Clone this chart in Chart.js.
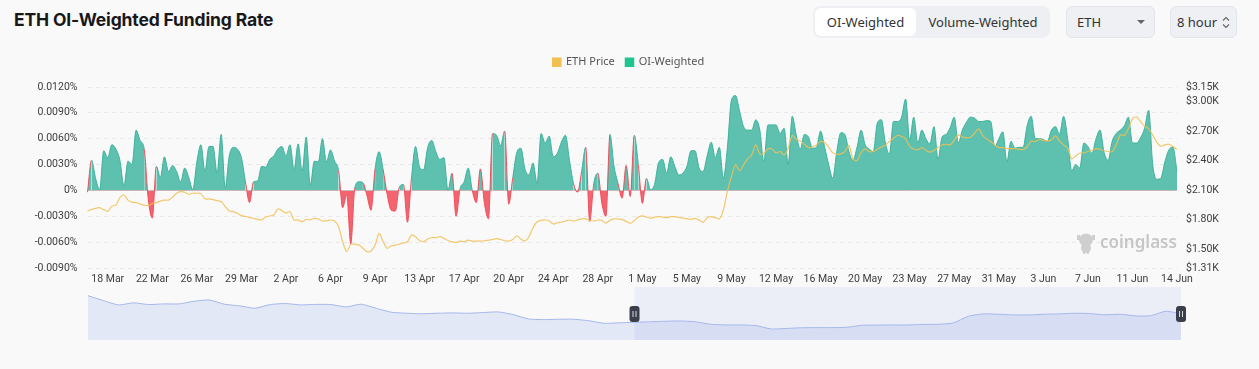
<!DOCTYPE html>
<html><head><meta charset="utf-8">
<script src="https://cdn.jsdelivr.net/npm/chart.js@4.4.1/dist/chart.umd.min.js"></script>
<style>
html,body{margin:0;padding:0;background:#f9f9f9;width:1259px;height:369px;overflow:hidden;font-family:"Noto Sans",sans-serif;}
#title{position:absolute;left:14px;top:9px;font-family:Inter,sans-serif;font-weight:700;font-size:17.5px;color:#18181b;letter-spacing:-0.15px;white-space:nowrap}
.seg{position:absolute;left:813px;top:6px;width:237px;height:32px;background:#edeff2;border-radius:8px}
.segsel{position:absolute;left:2px;top:2px;width:101px;height:28px;background:#fff;border-radius:6px;font-size:13px;color:#333;line-height:28px;text-align:center}
.segoff{position:absolute;left:103px;top:2px;width:134px;height:28px;font-size:13px;color:#333;line-height:28px;text-align:center}
.box{position:absolute;top:6px;height:32px;box-sizing:border-box;background:#eef0f3;border:1px solid #e2e5e9;border-radius:6px;font-size:13px;color:#333;line-height:30px}
#eth{left:1066px;width:89px;padding-left:10px}
#hour{left:1170px;width:67px;padding-left:6px}
.caret{position:absolute;left:70px;top:13px;width:0;height:0;border-left:4px solid transparent;border-right:4px solid transparent;border-top:4px solid #666}
.chev{position:absolute;left:51px;top:9px}
canvas{position:absolute;left:0}
</style></head>
<body>
<div id="title">ETH OI-Weighted Funding Rate</div>
<div class="seg"><div class="segsel">OI-Weighted</div><div class="segoff">Volume-Weighted</div></div>
<div class="box" id="eth">ETH<div class="caret"></div></div>
<div class="box" id="hour">8 hour<svg class="chev" width="8" height="13" viewBox="0 0 8 13"><path d="M1 4.5 L4 1.5 L7 4.5 M1 8.5 L4 11.5 L7 8.5" fill="none" stroke="#666" stroke-width="1.1"/></svg></div>
<canvas id="main" width="1259" height="292" style="top:0"></canvas>
<canvas id="nav" width="1259" height="70" style="top:280px"></canvas>
<script>
// ---------- DATA ----------
const tickLabels = ['18 Mar','22 Mar','26 Mar','29 Mar','2 Apr','6 Apr','9 Apr','13 Apr','17 Apr','20 Apr','24 Apr','28 Apr','1 May','5 May','9 May','12 May','16 May','20 May','23 May','27 May','31 May','3 Jun','7 Jun','11 Jun','14 Jun'];
const rateTicks = [-0.009,-0.006,-0.003,0,0.003,0.006,0.009,0.012];
const priceTicks = [1310,1500,1800,2100,2400,2700,3000,3150];
// OI-weighted funding rate, % per 8h
const fundingRate = [
-0.0002,0.0035,0.0014,0.0001,0.0046,0.0038,0.0053,0.0048,0.0035,0.0005,
0.0034,0.0030,0.0070,0.0058,0.0048,-0.0010,-0.0032,0.0028,0.0015,0.0039,
0.0022,0.0029,0.0022,0.0010,0.0026,0.0015,0.0001,0.0033,0.0053,0.0022,
0.0051,0.0051,0.0020,0.0065,0.0003,0.0040,0.0050,0.0048,0.0038,0.0010,
-0.0014,0.0010,0.0011,0.0028,0.0027,0.0036,0.0040,0.0048,0.0051,0.0040,
0.0053,0.0024,0.0054,0.0022,0.0062,0.0006,0.0034,0.0033,0.0060,0.0033,
0.0047,0.0034,0.0023,-0.0020,-0.0005,-0.0062,0.0003,0.0010,0.0009,-0.0006,
-0.0023,0.0025,0.0045,0.0024,-0.0005,-0.0023,-0.0024,0.0004,0.0007,-0.0037,
0.0015,0.0051,0.0027,0.0024,0.0050,0.0058,0.0045,0.0036,0.0038,0.0000,
0.0020,-0.0030,0.0002,0.0010,0.0026,0.0000,-0.0014,0.0025,-0.0015,-0.0033,
0.0066,0.0064,0.0052,0.0069,-0.0016,0.0015,0.0044,0.0049,0.0025,0.0018,
0.0032,0.0008,0.0066,0.0055,0.0063,0.0039,0.0043,0.0056,0.0064,0.0035,
0.0008,-0.0002,0.0022,0.0050,-0.0036,0.0008,0.0020,-0.0015,-0.0030,0.0065,
0.0028,0.0008,-0.0009,0.0029,-0.0007,0.0064,0.0030,-0.0015,0.0014,0.0001,
0.0007,0.0032,0.0036,0.0020,0.0039,0.0028,0.0018,0.0020,0.0028,0.0046,
0.0046,0.0026,0.0022,0.0040,0.0056,0.0038,0.0050,0.0014,0.0050,0.0105,
0.0110,0.0092,0.0074,0.0070,0.0070,0.0082,0.0070,0.0033,0.0076,0.0076,
0.0076,0.0066,0.0072,0.0030,0.0086,0.0064,0.0048,0.0065,0.0062,0.0049,
0.0050,0.0069,0.0050,0.0030,0.0014,0.0045,0.0067,0.0065,0.0045,0.0035,
0.0050,0.0070,0.0053,0.0048,0.0045,0.0078,0.0082,0.0055,0.0042,0.0080,
0.0080,0.0085,0.0106,0.0058,0.0085,0.0055,0.0070,0.0060,0.0054,0.0074,
0.0036,0.0062,0.0065,0.0073,0.0085,0.0055,0.0070,0.0079,0.0085,0.0084,
0.0080,0.0080,0.0081,0.0080,0.0050,0.0060,0.0068,0.0033,0.0057,0.0049,
0.0050,0.0050,0.0075,0.0086,0.0060,0.0060,0.0059,0.0057,0.0070,0.0074,
0.0065,0.0086,0.0060,0.0023,0.0030,0.0026,0.0055,0.0051,0.0043,0.0060,
0.0070,0.0044,0.0035,0.0057,0.0066,0.0070,0.0075,0.0085,0.0055,0.0055,
0.0061,0.0072,0.0093,0.0030,0.0013,0.0014,0.0033,0.0047,0.0050,0.0022];
// ETH price, USD
const ethPrice = [
1890,1906,1917,1923,1903,1886,1937,1950,2025,2052,
2000,1980,1974,1960,1950,1944,1964,1974,1990,2000,
2000,2030,2070,2086,2080,2060,2070,2070,2066,2012,
2012,2005,1995,1985,1934,1890,1883,1866,1842,1835,
1822,1815,1805,1798,1828,1839,1849,1910,1893,1869,
1883,1798,1798,1780,1805,1800,1815,1808,1788,1790,
1798,1788,1730,1577,1475,1550,1550,1543,1510,1476,
1482,1543,1662,1577,1510,1536,1543,1553,1564,1577,
1645,1628,1590,1577,1604,1620,1618,1628,1611,1590,
1577,1570,1584,1577,1594,1584,1584,1584,1587,1594,
1600,1608,1600,1587,1584,1600,1638,1604,1584,1628,
1720,1780,1795,1798,1788,1757,1770,1778,1788,1798,
1788,1800,1810,1810,1795,1788,1798,1795,1767,1795,
1810,1808,1805,1784,1764,1790,1828,1839,1828,1815,
1828,1832,1828,1822,1832,1832,1825,1818,1810,1805,
1815,1798,1774,1822,1832,1822,1810,1900,2093,2240,
2358,2300,2358,2420,2460,2562,2470,2477,2520,2520,
2480,2494,2460,2528,2657,2616,2600,2568,2534,2540,
2562,2596,2585,2540,2480,2467,2470,2494,2555,2420,
2400,2484,2520,2494,2494,2517,2540,2558,2596,2630,
2657,2647,2623,2545,2520,2510,2534,2507,2487,2507,
2534,2562,2568,2562,2610,2663,2643,2633,2640,2680,
2725,2657,2620,2596,2562,2534,2534,2524,2524,2524,
2517,2514,2540,2600,2596,2616,2606,2600,2613,2653,
2600,2562,2528,2420,2450,2477,2480,2494,2507,2524,
2517,2504,2494,2494,2562,2663,2657,2725,2826,2847,
2800,2752,2725,2663,2590,2548,2562,2568,2545,2517];
// navigator (long range) ETH price, USD K
const navPrice = [
3.51,3.22,2.96,3.08,2.98,3.02,3.02,3.18,3.25,3.00,
2.90,2.76,2.98,3.04,2.96,2.99,2.98,2.84,3.00,2.75,
2.52,2.46,2.43,2.46,2.48,2.46,2.50,2.54,2.38,2.12,
2.08,2.10,2.10,2.01,1.86,1.89,1.92,1.95,1.98,2.00,
1.95,1.80,1.76,1.76,1.72,1.52,1.55,1.59,1.60,1.60,
1.62,1.74,1.75,1.76,1.76,1.79,1.80,1.88,2.28,2.42,
2.40,2.36,2.36,2.40,2.42,2.46,2.44,2.37,2.40,2.30,
2.31,2.58,2.42];
const navSelStart = 36; // zoom window starts at this navigator sample

// ---------- categories ----------
const MONTHS = ['Jan','Feb','Mar','Apr','May','Jun','Jul','Aug','Sep','Oct','Nov','Dec'];
const START = Date.UTC(2025, 2, 17, 0);
const categories = fundingRate.map((_, i) => {
  const d = new Date(START + i * 8 * 3600e3);
  return d.getUTCDate() + ' ' + MONTHS[d.getUTCMonth()] + ' ' + String(d.getUTCHours()).padStart(2, '0') + ':00';
});
const TICK_OFFSET = 5, TICK_EVERY = 11;

const TEAL = '#5ec0ae', TEAL_LINE = '#3fb29c', RED = '#f4646f', RED_LINE = '#ee4d5b';
const tickFont = {family: 'Roboto', size: 10.5};

const decor = {
  id: 'decor',
  beforeDatasetsDraw(chart) {
    const {ctx, chartArea: a, scales} = chart;
    const y0 = scales.y.getPixelForValue(0);
    ctx.save();
    ctx.strokeStyle = '#dcdcdc'; ctx.lineWidth = 1;
    ctx.beginPath(); ctx.moveTo(a.left, Math.round(y0) + 0.5); ctx.lineTo(a.right, Math.round(y0) + 0.5); ctx.stroke();
    // watermark
    const wx = 1086, wy = 243;
    ctx.fillStyle = '#cfcfcf';
    ctx.beginPath(); ctx.ellipse(wx, wy - 3, 7, 6.5, 0, 0, Math.PI * 2); ctx.fill();
    ctx.beginPath(); ctx.ellipse(wx, wy + 5, 5, 5, 0, 0, Math.PI * 2); ctx.fill();
    ctx.fillRect(wx - 9, wy - 8, 3, 5); ctx.fillRect(wx + 6, wy - 8, 3, 5);
    ctx.fillRect(wx - 3, wy + 7, 2, 4); ctx.fillRect(wx + 1, wy + 7, 2, 4);
    ctx.font = '600 17px "Noto Sans"'; ctx.fillStyle = '#c6c6c6';
    ctx.textBaseline = 'middle'; ctx.textAlign = 'left';
    ctx.fillText('coinglass', 1100, wy);
    ctx.restore();
  },
  afterDraw(chart) {
    const ctx = chart.ctx;
    ctx.save();
    ctx.font = '11px "Noto Sans"'; ctx.textBaseline = 'middle'; ctx.textAlign = 'left';
    const items = [['ETH Price', '#f0c050'], ['OI-Weighted', '#1ec58c']];
    let x = 552; const y = 62;
    items.forEach(([t, c]) => {
      ctx.fillStyle = c; ctx.fillRect(x, y - 4.5, 9.5, 9.5);
      ctx.fillStyle = '#555'; ctx.fillText(t, x + 14, y);
      x += 14 + ctx.measureText(t).width + 10;
    });
    ctx.restore();
  }
};

new Chart(document.getElementById('main'), {
  type: 'line',
  data: {
    labels: categories,
    datasets: [
      {label: 'ETH Price', data: ethPrice, yAxisID: 'y1', borderColor: 'rgba(242,192,84,0.85)', borderWidth: 1.2,
       pointRadius: 0, fill: false, tension: 0.3, order: 0},
      {label: 'OI-Weighted', data: fundingRate, yAxisID: 'y', borderWidth: 1, pointRadius: 0,
       cubicInterpolationMode: 'monotone', order: 1, borderColor: TEAL_LINE,
       segment: {borderColor: c => (c.p0.parsed.y < 0 || c.p1.parsed.y < 0) ? RED_LINE : TEAL_LINE},
       fill: {target: 'origin', above: TEAL, below: RED}}
    ]
  },
  options: {
    responsive: false, animation: false,
    layout: {padding: {top: 87, left: 0, right: 0, bottom: 0}},
    plugins: {legend: {display: false}, tooltip: {enabled: false}},
    scales: {
      x: {
        grid: {display: false, drawTicks: false}, border: {display: false},
        afterFit(s) { s.height = 24; },
        ticks: {autoSkip: false, maxRotation: 0, padding: 5, font: tickFont, color: '#3d3d3d',
          callback(v, i) { const k = (i - TICK_OFFSET) / TICK_EVERY; return Number.isInteger(k) && k >= 0 && k < tickLabels.length ? tickLabels[k] : null; }}
      },
      y: {
        position: 'left', min: rateTicks[0], max: rateTicks[rateTicks.length - 1],
        afterBuildTicks(s) { s.ticks = rateTicks.map(v => ({value: v})); },
        afterFit(s) { s.width = 87.5; },
        grid: {color: '#e9e9e9', drawTicks: false}, border: {display: false, dash: [4, 4]},
        ticks: {padding: 10, font: tickFont, color: '#3d3d3d', callback: v => v === 0 ? '0%' : v.toFixed(4) + '%'}
      },
      y1: {
        position: 'right', min: priceTicks[0], max: priceTicks[priceTicks.length - 1],
        afterBuildTicks(s) { s.ticks = priceTicks.map(v => ({value: v})); },
        afterFit(s) { s.width = 82; },
        grid: {display: false, drawTicks: false}, border: {display: false},
        ticks: {padding: 9, font: tickFont, color: '#3d3d3d', callback: v => '$' + (v / 1000).toFixed(2) + 'K'}
      }
    }
  },
  plugins: [decor]
});

const navDecor = {
  id: 'navDecor',
  beforeDatasetsDraw(chart) {
    const {ctx, chartArea: a, scales} = chart;
    const xs = scales.x.getPixelForValue(navSelStart);
    ctx.save();
    ctx.fillStyle = 'rgba(125,150,235,0.11)';
    ctx.fillRect(xs, a.top, a.right - xs, a.bottom - a.top);
    ctx.restore();
  },
  afterDraw(chart) {
    const {ctx, chartArea: a, scales} = chart;
    const xs = scales.x.getPixelForValue(navSelStart);
    const yc = (a.top + a.bottom) / 2 + 0.5;
    ctx.save();
    [xs, a.right].forEach(x => {
      ctx.fillStyle = '#3a3f4b';
      ctx.beginPath(); ctx.roundRect(x - 5, yc - 8, 10, 16, 3); ctx.fill();
      ctx.strokeStyle = '#d8dbe2'; ctx.lineWidth = 1;
      ctx.beginPath(); ctx.moveTo(x - 1.5, yc - 3); ctx.lineTo(x - 1.5, yc + 3);
      ctx.moveTo(x + 1.5, yc - 3); ctx.lineTo(x + 1.5, yc + 3); ctx.stroke();
    });
    ctx.restore();
  }
};

new Chart(document.getElementById('nav'), {
  type: 'line',
  data: {
    labels: navPrice.map((_, i) => i),
    datasets: [{data: navPrice, borderColor: '#a3b6ea', borderWidth: 1, pointRadius: 0, tension: 0.2,
      fill: 'start', backgroundColor: 'rgba(120,150,230,0.17)'}]
  },
  options: {
    responsive: false, animation: false,
    layout: {padding: {top: 7, left: 88, right: 78, bottom: 10}},
    plugins: {legend: {display: false}, tooltip: {enabled: false}},
    scales: {
      x: {display: false},
      y: {display: false, min: 0.86, max: 4.03}
    }
  },
  plugins: [navDecor]
});
</script>
</body></html>
